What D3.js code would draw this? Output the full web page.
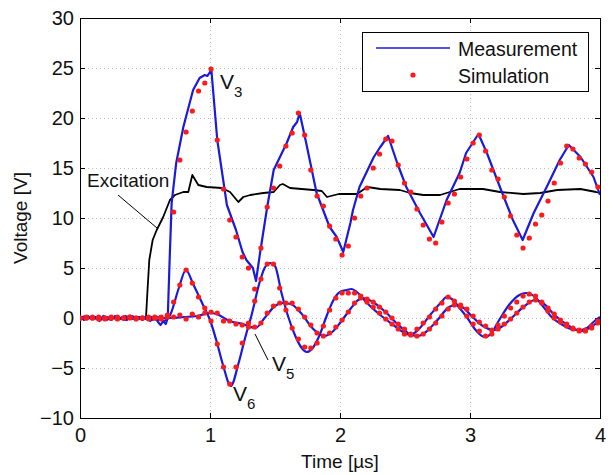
<!DOCTYPE html>
<html><head><meta charset="utf-8">
<script src="https://cdn.jsdelivr.net/npm/d3@7/dist/d3.min.js"></script>
<style>body{margin:0;background:#fff}svg{display:block}</style>
</head><body><svg id="c" width="613" height="475"></svg>
<script>
// ---- tick labels ----
const xTicks = [0, 1, 2, 3, 4];
const yTicks = [-10, -5, 0, 5, 10, 15, 20, 25, 30];

// ---- simulation sample times (µs) ----
const simT = [0,0.048,0.096,0.144,0.192,0.24,0.288,0.336,0.384,0.432,0.48,0.528,0.576,0.624,0.672,0.72,0.768,0.816,0.864,0.912,0.96,1.008,1.056,1.104,1.152,1.2,1.248,1.296,1.344,1.392,1.44,1.488,1.536,1.584,1.632,1.68,1.728,1.776,1.824,1.872,1.92,1.968,2.016,2.064,2.112,2.16,2.208,2.256,2.304,2.352,2.4,2.448,2.496,2.544,2.592,2.64,2.688,2.736,2.784,2.832,2.88,2.928,2.976,3.024,3.072,3.12,3.168,3.216,3.264,3.312,3.36,3.408,3.456,3.504,3.552,3.6,3.648,3.696,3.744,3.792,3.84,3.888,3.936,3.984];

// ---- simulation values (V) ----
const simV3 = [0,0.1,0,-0.1,0,0.1,0,0,0.1,0,0,-0.1,0,0.1,0.2,10.6,15.8,18.6,20.7,22.7,23.5,24.9,17.8,12.9,9.8,8.1,6.1,5.0,2.9,7.0,11.1,13.0,15.2,17.2,18.5,20.5,18.3,14.8,12.2,11.2,9.2,7.9,6.3,7.2,10.0,12.2,13.0,15.0,16.4,17.9,17.7,15.3,13.5,12.6,10.9,9.3,7.9,7.5,9.6,11.5,12.4,14.1,15.9,17.5,18.3,16.7,14.8,13.9,12.1,10.2,8.3,7.0,8.0,9.4,10.3,11.7,13.5,15.5,17.2,16.9,16.0,15.4,14.6,13.1];
const simV6 = [0,0,0.1,0,-0.1,0,0.1,0,0,-0.1,0,0.1,0,-0.1,0.3,1.6,3.3,4.8,3.5,2.1,1.0,-0.3,-2.6,-4.9,-6.6,-4.9,-2.5,-0.5,1.7,3.9,5.4,5.4,3.0,0.8,-1.0,-2.1,-2.9,-3.0,-2.5,-0.8,0.8,2.0,2.5,2.5,2.5,2.2,1.6,1.1,0.5,-0.1,-0.6,-1.1,-1.6,-1.7,-1.1,-0.5,0.1,0.9,1.5,2.1,1.7,1.1,0.2,-0.6,-1.3,-1.8,-1.6,-0.7,0.2,1.0,1.6,2.2,2.4,2.2,1.5,0.7,0.0,-0.4,-0.8,-1.1,-1.3,-1.2,-0.8,-0.3];
const simV5 = [0,0,0,0.1,0,0,-0.1,0,0.1,0,0,0,0.1,0,0.1,0.1,0.3,-0.1,0.4,0.1,0.5,0.6,0.5,-0.3,-0.3,-0.6,-0.7,-0.9,-0.9,-0.5,0.5,1.2,1.5,1.5,1.5,0.9,0.1,-0.7,-1.5,-1.8,-1.5,-0.9,-0.2,0.6,1.5,2.0,1.9,1.6,1.1,0.6,0.0,-0.6,-1.1,-1.6,-1.8,-1.6,-1.1,-0.5,0.2,0.9,1.3,1.3,0.9,0.2,-0.4,-0.8,-1.2,-1.1,-0.6,-0.1,0.5,1.1,1.6,1.8,1.6,1.0,0.4,-0.2,-0.6,-1.0,-1.2,-1.3,-1.0,-0.5];

// ---- measured curves: times (µs) and values (V) ----
const measV3T = [0,0.03,0.06,0.09,0.12,0.15,0.18,0.21,0.24,0.27,0.30,0.33,0.36,0.39,0.42,0.45,0.48,0.51,0.54,0.57,0.60,0.62,0.64,0.66,0.675,0.69,0.705,0.74,0.795,0.87,0.92,0.96,0.98,1.0,1.01,1.056,1.13,1.2,1.25,1.28,1.33,1.354,1.385,1.44,1.49,1.59,1.64,1.67,1.69,1.74,1.82,1.92,1.975,2.025,2.08,2.10,2.15,2.26,2.31,2.37,2.44,2.51,2.615,2.72,2.82,2.92,2.97,3.065,3.13,3.23,3.33,3.405,3.49,3.59,3.69,3.76,3.85,3.95,4.0];
const measV3V = [0.1,-0.2,0.2,-0.1,0.1,-0.3,0.2,0,-0.2,0.2,-0.1,0.1,-0.2,0.2,-0.1,0.1,-0.2,0.1,-0.3,0.2,-0.4,-0.7,-0.3,-0.6,0,6,11.5,15.5,19.1,22.8,24.0,24.3,24.2,24.6,24.9,17.8,11.3,8.8,6.6,5.8,5.0,3.7,6.5,11.1,14.8,17.5,19.1,19.6,20.5,17.5,12.5,9.1,8.1,6.6,9.5,10.8,13.1,16.1,17.1,18.2,15.5,13.1,10.5,8.1,11.8,14.5,16.5,18.4,16.5,13.1,9.8,7.8,10.5,13.1,15.8,17.3,16.1,14.1,12.3];

const measV6T = [0,0.05,0.1,0.15,0.2,0.25,0.3,0.35,0.4,0.45,0.5,0.55,0.6,0.64,0.68,0.70,0.76,0.815,0.87,0.95,1.0,1.05,1.1,1.16,1.22,1.27,1.32,1.38,1.42,1.46,1.50,1.55,1.60,1.65,1.70,1.745,1.79,1.84,1.90,1.95,2.0,2.05,2.09,2.13,2.2,2.3,2.4,2.5,2.54,2.6,2.7,2.78,2.82,2.86,2.92,2.98,3.05,3.115,3.16,3.22,3.3,3.38,3.43,3.5,3.56,3.62,3.7,3.78,3.84,3.9,3.95,4.0];
const measV6V = [0,0.2,-0.1,0.1,-0.2,0.1,0,-0.2,0.2,-0.1,0.1,-0.2,0.1,-0.3,0,0.5,3.0,4.8,3.4,1.2,-0.2,-2.3,-4.7,-6.8,-4.5,-2.0,0.3,3.5,5.0,5.5,5.2,2.5,0.2,-1.6,-2.9,-3.4,-3.0,-1.8,0.3,1.8,2.6,2.8,2.9,2.6,1.6,0.4,-0.6,-1.5,-1.7,-1.2,0.4,1.6,2.1,1.9,1.0,0.0,-1.3,-1.9,-1.6,-0.3,1.3,2.3,2.5,2.1,1.2,0.2,-0.6,-1.1,-1.2,-1.0,-0.4,0.1];

const measV5T = [0,0.05,0.1,0.15,0.2,0.25,0.3,0.35,0.4,0.45,0.5,0.55,0.6,0.65,0.7,0.8,0.9,1.0,1.05,1.15,1.25,1.35,1.42,1.5,1.55,1.62,1.7,1.78,1.84,1.88,1.94,2.0,2.08,2.14,2.18,2.24,2.35,2.45,2.55,2.6,2.66,2.75,2.83,2.88,2.94,3.02,3.1,3.18,3.24,3.32,3.42,3.5,3.56,3.65,3.75,3.86,3.92,4.0];
const measV5V = [0,-0.1,0.1,-0.2,0.1,0,-0.1,0.2,-0.1,0.1,-0.1,0.1,-0.2,0,0,0.1,0.2,0.5,0.4,-0.3,-0.6,-1.0,0.0,1.2,1.5,1.4,0.5,-0.9,-1.6,-1.8,-1.4,-0.5,0.9,1.8,2.0,1.7,0.6,-0.7,-1.7,-1.8,-1.4,-0.2,1.0,1.3,1.1,0.1,-0.8,-1.2,-0.9,0.0,1.2,1.8,1.5,0.3,-0.7,-1.3,-1.0,-0.2];

const excT = [0,0.3,0.508,0.518,0.533,0.559,0.59,0.64,0.692,0.73,0.795,0.833,0.864,0.91,0.975,1.09,1.154,1.218,1.256,1.31,1.41,1.49,1.538,1.56,1.615,1.795,1.86,1.9,1.99,2.13,2.21,2.31,2.46,2.54,2.64,2.77,2.82,2.92,3.10,3.23,3.41,3.54,3.67,3.85,3.97,4.0];
const excV = [0,0,0.1,2.5,5.8,7.8,8.8,10.1,11.8,12.3,12.6,12.6,14.3,13.3,13.1,13.0,12.6,11.6,12.1,12.3,12.5,12.6,13.3,13.4,13.0,12.8,12.7,12.1,12.4,12.4,13.1,12.9,12.8,12.5,12.3,12.3,12.5,12.9,12.9,12.6,12.4,12.5,12.8,12.9,12.6,12.5];

// ---- chart ----
const svg = d3.select('#c');
const L = 80, R = 600, T = 18, B = 418;
const x = d3.scaleLinear().domain([0, 4]).range([L, R]);
const y = d3.scaleLinear().domain([-10, 30]).range([B, T]);
const font = '"Liberation Sans", Arial, sans-serif';

const defs = svg.append('defs');
defs.append('clipPath').attr('id', 'clip').append('rect')
  .attr('x', L).attr('y', T).attr('width', R - L).attr('height', B - T);

// grid
const grid = svg.append('g').attr('stroke', '#bdbdbd').attr('stroke-width', 1)
  .attr('stroke-dasharray', '1,3').attr('shape-rendering', 'crispEdges');
xTicks.slice(1, -1).forEach(t => grid.append('line')
  .attr('x1', x(t)).attr('x2', x(t)).attr('y1', T).attr('y2', B));
yTicks.slice(1, -1).forEach(t => grid.append('line')
  .attr('x1', L).attr('x2', R).attr('y1', y(t)).attr('y2', y(t)));

// axes (inward ticks, all four sides)
const tickFmt = d3.format('d');
svg.append('g').attr('transform', `translate(0,${B})`)
  .call(d3.axisBottom(x).tickValues(xTicks).tickSizeInner(-5).tickSizeOuter(0).tickPadding(10).tickFormat(tickFmt));
svg.append('g').attr('transform', `translate(0,${T})`)
  .call(d3.axisTop(x).tickValues(xTicks).tickSizeInner(-5).tickSizeOuter(0).tickFormat(''));
svg.append('g').attr('transform', `translate(${L},0)`)
  .call(d3.axisLeft(y).tickValues(yTicks).tickSizeInner(-5).tickSizeOuter(0).tickPadding(6).tickFormat(tickFmt));
svg.append('g').attr('transform', `translate(${R},0)`)
  .call(d3.axisRight(y).tickValues(yTicks).tickSizeInner(-5).tickSizeOuter(0).tickFormat(''));
svg.selectAll('.domain').remove();
svg.selectAll('.tick line').attr('stroke', '#000');
svg.selectAll('.tick text').attr('font-family', font).attr('font-size', 20).attr('fill', '#111');
svg.append('rect').attr('x', L).attr('y', T).attr('width', R - L).attr('height', B - T)
  .attr('fill', 'none').attr('stroke', '#000').attr('stroke-width', 1).attr('shape-rendering', 'crispEdges');

// axis titles
svg.append('text').attr('x', (L + R) / 2).attr('y', 468).attr('text-anchor', 'middle')
  .attr('font-family', font).attr('font-size', 19).attr('fill', '#111').text('Time [µs]');
svg.append('text').attr('transform', `translate(27,${(T + B) / 2}) rotate(-90)`).attr('text-anchor', 'middle')
  .attr('font-family', font).attr('font-size', 19).attr('fill', '#111').text('Voltage [V]');

const plot = svg.append('g').attr('clip-path', 'url(#clip)');

const lineLin = d3.line().x(d => x(d[0])).y(d => y(d[1]));
const lineSm = d3.line().x(d => x(d[0])).y(d => y(d[1])).curve(d3.curveMonotoneX);
const zip = (a, b) => a.map((t, i) => [t, b[i]]);

// excitation
plot.append('path').datum(zip(excT, excV)).attr('d', lineLin)
  .attr('fill', 'none').attr('stroke', '#000').attr('stroke-width', 1.8).attr('stroke-linejoin', 'round');

// measurements
[[measV5T, measV5V, lineSm], [measV6T, measV6V, lineSm], [measV3T, measV3V, lineLin]].forEach(([tt, vv, gen]) => {
  plot.append('path').datum(zip(tt, vv)).attr('d', gen)
    .attr('fill', 'none').attr('stroke', '#1a1adc').attr('stroke-width', 2.2).attr('stroke-linejoin', 'round');
});

// simulations
[simV5, simV6, simV3].forEach(vals => {
  plot.append('g').selectAll('circle').data(zip(simT, vals)).join('circle')
    .attr('cx', d => x(d[0])).attr('cy', d => y(d[1])).attr('r', 2.6).attr('fill', '#ff1a1a');
});

// annotations
const ann = svg.append('g').attr('font-family', font).attr('fill', '#111');
ann.append('text').attr('x', 87).attr('y', 187).attr('font-size', 19).text('Excitation');
svg.append('line').attr('x1', 118).attr('y1', 195).attr('x2', 157).attr('y2', 228).attr('stroke', '#000').attr('stroke-width', 1);
const lab = (xx, yy, sub) => {
  const t = ann.append('text').attr('x', xx).attr('y', yy).attr('font-size', 21);
  t.append('tspan').text('V');
  t.append('tspan').attr('font-size', 15).attr('dy', 8).text(sub);
};
lab(220, 89, '3');
lab(272, 371, '5');
lab(233, 401, '6');
svg.append('line').attr('x1', 255).attr('y1', 334).attr('x2', 268).attr('y2', 360).attr('stroke', '#000').attr('stroke-width', 1);

// legend
const lg = svg.append('g');
lg.append('rect').attr('x', 362).attr('y', 32).attr('width', 226).attr('height', 59)
  .attr('fill', '#fff').attr('stroke', '#000').attr('stroke-width', 1).attr('shape-rendering', 'crispEdges');
lg.append('line').attr('x1', 376).attr('x2', 450).attr('y1', 48).attr('y2', 48).attr('stroke', '#1a1adc').attr('stroke-width', 1.5);
lg.append('circle').attr('cx', 413).attr('cy', 75).attr('r', 2.6).attr('fill', '#ff1a1a');
lg.append('text').attr('x', 458).attr('y', 56).attr('font-family', font).attr('font-size', 19.5).attr('fill', '#111').text('Measurement');
lg.append('text').attr('x', 458).attr('y', 83).attr('font-family', font).attr('font-size', 19.5).attr('fill', '#111').text('Simulation');
</script></body></html>
